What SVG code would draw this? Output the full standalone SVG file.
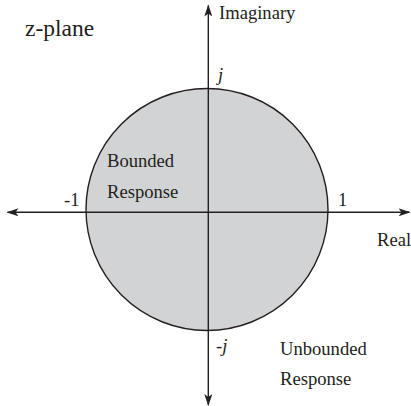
<svg xmlns="http://www.w3.org/2000/svg" width="411" height="406" viewBox="0 0 411 406">
<style>
.ax{stroke:#231f20;stroke-width:1.4;fill:none}
.it{font-style:italic}
</style>
<defs>
<marker id="arr" viewBox="0 0 12 8" refX="11" refY="4" markerWidth="12" markerHeight="8" markerUnits="userSpaceOnUse" orient="auto">
<path d="M0,0 L12,4 L0,8 L3,4 Z" fill="#231f20"/>
</marker>
</defs>
<g id="unit-circle">
<circle cx="207" cy="209.5" r="121" fill="#d1d3d4" stroke="#231f20" stroke-width="1.4"/>
</g>
<g id="connectors">
<line class="ax" x1="208.3" y1="212.3" x2="409.5" y2="212.3" marker-end="url(#arr)"/>
<line class="ax" x1="208.3" y1="212.3" x2="7.5" y2="212.3" marker-end="url(#arr)"/>
<line class="ax" x1="208.3" y1="212.3" x2="208.3" y2="5.5" marker-end="url(#arr)"/>
<line class="ax" x1="208.3" y1="212.3" x2="208.3" y2="405" marker-end="url(#arr)"/>
</g>
<g id="labels" font-family="Liberation Serif, Times New Roman, serif" font-size="18.6" fill="#231f20">
<text x="25" y="36" font-size="23.5">z-plane</text>
<text x="219" y="19">Imaginary</text>
<text x="218" y="81" class="it">j</text>
<text x="107" y="167">Bounded</text>
<text x="107" y="198">Response</text>
<text x="64" y="206">-1</text>
<text x="338" y="206">1</text>
<text x="377" y="246">Real</text>
<text x="216" y="352" class="it">-j</text>
<text x="280" y="355">Unbounded</text>
<text x="280" y="385">Response</text>
</g>
</svg>
